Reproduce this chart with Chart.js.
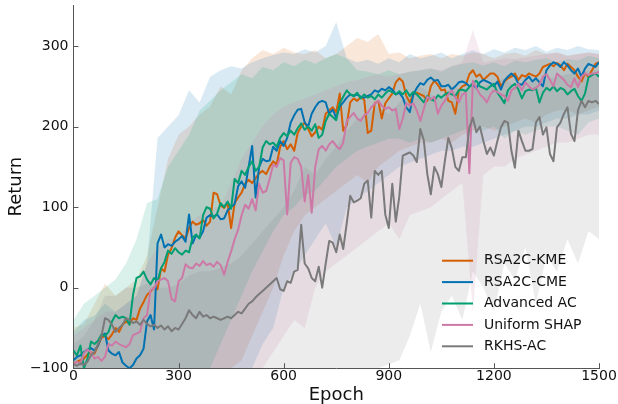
<!DOCTYPE html>
<html>
<head>
<meta charset="utf-8">
<script src="https://cdn.jsdelivr.net/npm/chart.js@4.4.1/dist/chart.umd.min.js"></script>
<style>
  html, body { margin: 0; padding: 0; background: #fff; }
</style>
</head>
<body>
<canvas id="returnChart" width="618" height="404"></canvas>
<script>
// mean return, one value every 10 epochs (0..1500)
const kme = [
  -95,-92,-90,-88,-83,-80,-82,-72,-62,-60,
  -64,-58,-50,-55,-46,-42,-45,-38,-40,-26,
  -18,-9,-5,0,-2,24,20,41,49,62,
  70,65,61,74,82,78,80,84,77,82,
  118,116,102,99,105,74,105,112,118,129,
  134,130,136,142,145,141,150,157,153,175,
  182,172,178,170,192,200,205,197,188,193,
  200,196,216,220,224,218,241,195,202,230,
  235,232,237,233,192,195,229,232,210,229,
  235,241,255,260,256,238,230,240,242,240,
  238,232,250,257,252,245,246,232,230,216,
  245,250,252,265,270,262,265,258,262,266,
  266,262,250,256,260,262,266,258,264,262,
  266,264,262,266,274,276,278,275,279,276,
  270,278,274,270,262,256,266,262,270,278,
  280
];
const cme = [
  -90,-86,-84,-80,-77,-75,-78,-72,-60,-57,
  -78,-82,-84,-80,-93,-97,-100,-96,-88,-84,
  -76,-42,-34,-52,55,66,50,54,52,57,
  60,64,57,91,55,65,62,70,87,90,
  88,91,85,86,96,100,104,126,132,124,
  150,176,112,150,160,157,158,175,170,182,
  176,186,205,214,221,222,205,200,216,224,
  230,232,230,216,221,211,225,230,236,240,
  238,240,237,236,238,240,245,243,247,245,
  249,246,240,242,236,224,218,240,248,254,
  252,258,261,257,258,250,250,252,246,250,
  255,256,254,250,252,248,255,258,256,254,
  250,256,246,257,262,266,262,253,252,258,
  262,256,260,255,250,270,276,280,278,274,
  280,276,270,266,272,262,272,278,276,274,
  280
];
const advAC = [
  -78,-84,-72,-100,-88,-67,-70,-66,-58,-60,
  -55,-42,-34,-38,-36,-38,-46,-9,12,14,
  20,10,4,12,8,24,32,46,42,49,
  44,41,46,44,62,66,61,90,100,98,
  86,92,105,100,107,98,135,130,145,140,
  150,157,145,150,174,182,178,180,175,186,
  192,188,195,190,198,204,196,200,195,203,
  186,190,207,216,212,208,229,237,245,240,
  238,242,235,240,236,238,234,240,236,241,
  245,243,240,244,240,245,238,243,240,235,
  230,238,234,232,239,236,240,242,240,238,
  245,246,244,249,254,257,250,248,246,250,
  253,242,236,229,245,250,253,246,235,244,
  246,245,248,230,242,248,245,250,244,248,
  246,240,244,247,238,232,241,261,264,266,
  262
];
const shap = [
  -95,-92,-95,-81,-77,-80,-88,-86,-91,-86,
  -70,-72,-67,-70,-72,-74,-70,-59,-57,-55,
  -38,-34,-3,-1,8,10,12,8,-14,-17,
  8,12,29,25,24,30,27,33,28,30,
  26,32,28,16,32,45,60,72,90,103,
  98,110,96,129,118,120,135,153,150,161,
  158,91,155,162,160,150,107,140,93,150,
  172,176,170,178,182,176,172,180,207,212,
  217,210,207,214,217,224,228,232,226,222,
  224,220,222,197,210,229,226,229,220,207,
  222,237,234,237,216,226,232,240,245,236,
  230,240,242,142,257,248,240,236,230,240,
  245,243,240,238,232,245,248,253,245,255,
  250,246,248,252,262,265,258,250,266,262,
  258,252,249,260,249,262,266,264,266,266,
  268
];
const rkhs = [
  -95,-97,-94,-96,-92,-84,-80,-70,-60,-38,
  -40,-46,-55,-50,-46,-38,-40,-44,-42,-46,
  -40,-45,-48,-46,-50,-47,-52,-48,-54,-50,
  -52,-45,-38,-28,-34,-38,-30,-36,-34,-38,
  -36,-38,-40,-38,-36,-38,-34,-30,-32,-26,
  -20,-17,-12,-8,-4,0,4,8,12,-2,
  -4,8,6,20,22,78,30,24,12,8,
  26,0,30,58,56,44,66,48,80,114,
  106,108,111,129,133,87,145,140,145,91,
  74,129,82,113,164,166,168,164,156,197,
  183,141,116,150,141,125,157,186,173,150,
  145,162,162,199,211,193,200,182,166,174,
  164,182,199,207,205,170,149,195,182,170,
  170,172,205,212,190,199,166,157,199,205,
  216,224,191,182,220,232,224,232,230,232,
  228
];

// spread bands, one value every 30 epochs (0..1500)
const kmeHi = [-50,-45,-20,5,-10,0,10,40,100,160, 190,200,215,225,250,240,270,285,295,290, 298,292,290,295,285,290,300,310,305,315, 290,292,285,288,290,285,290,288,292,290, 285,290,292,288,295,290,292,288,290,292, 290];
const kmeLo = [-100,-100,-100,-100,-100,-100,-100,-100,-100,-100, -100,-100,-100,-100,-100,-100,-90,-60,-30,0, 40,70,90,100,110,120,130,140,130,150, 160,170,175,180,180,185,180,190,195,200, 195,200,205,210,205,215,220,220,215,220, 225];
const cmeHi = [-55,-40,-35,-20,-30,-20,-10,30,186,200, 214,245,230,262,270,275,272,280,285,289, 292,290,296,292,300,330,285,280,283,278, 285,280,290,285,288,292,285,290,295,290, 296,292,298,295,300,293,298,295,300,296, 295];
const cmeLo = [-100,-100,-100,-100,-100,-100,-100,-100,-100,-100, -100,-100,-100,-100,-100,-100,-100,-100,-70,-50, 0,20,40,60,80,50,100,110,120,130, 140,150,155,160,165,170,170,175,175,180, 185,190,195,200,200,205,210,210,215,215, 220];
const advHi = [-40,-20,-10,0,10,30,60,105,110,150, 170,190,220,232,245,255,265,260,274,270, 280,275,283,278,285,290,285,270,268,265, 270,265,268,270,272,268,275,278,280,276, 280,275,282,280,283,285,280,284,282,288, 285];
const advLo = [-100,-100,-100,-100,-100,-100,-100,-100,-100,-100, -100,-100,-100,-100,-70,-40,-10,20,45,70, 90,100,115,120,135,150,160,170,175,180, 185,185,180,185,180,185,190,195,200,195, 200,185,195,190,195,200,200,195,190,205, 210];
const shapHi = [-60,-50,-40,-30,-30,-20,-10,30,50,60, 60,80,90,100,100,130,160,180,200,215, 225,230,235,240,245,250,255,258,262,265, 262,265,268,270,272,270,275,280,320,280, 282,285,284,286,288,290,292,288,290,292, 290];
const shapLo = [-100,-100,-100,-100,-100,-100,-100,-100,-100,-100, -100,-100,-100,-100,-100,-100,-100,-100,-100,-80, -60,-40,-50,0,20,30,40,50,60,70, 80,60,90,95,100,110,120,130,-30,140, 150,150,160,165,170,175,180,180,185,190, 190];
const rkhsHi = [-70,-60,-40,-10,-10,0,0,5,0,0, 5,15,20,20,25,30,40,55,70,85, 100,120,150,140,160,175,195,210,215,225, 215,230,240,250,240,235,250,245,255,250, 255,260,250,255,260,258,262,265,268,270, 270];
const rkhsLo = [-100,-100,-100,-100,-100,-100,-100,-100,-100,-100, -100,-100,-100,-100,-100,-100,-100,-100,-100,-100, -100,-100,-100,-100,-100,-100,-100,-100,-110,-100, -95,-90,-60,-20,-80,-30,-10,-40,20,0, -30,30,10,50,-20,40,20,60,30,70, 60];

const names = ['RSA2C-KME', 'RSA2C-CME', 'Advanced AC', 'Uniform SHAP', 'RKHS-AC'];
const colors = ['#d55e00', '#0072b2', '#009e73', '#cc79a7', '#7a7a7a'];
const bandColors = ['rgba(213,94,0,0.15)', 'rgba(0,114,178,0.15)', 'rgba(0,158,115,0.15)',
                    'rgba(204,121,167,0.15)', 'rgba(127,127,127,0.15)'];
const xTicks = [0, 300, 600, 900, 1200, 1500];
const yTicks = [-100, 0, 100, 200, 300];

const means = [kme, cme, advAC, shap, rkhs];
const highs = [kmeHi, cmeHi, advHi, shapHi, rkhsHi];
const lows = [kmeLo, cmeLo, advLo, shapLo, rkhsLo];
const axisColor = '#555';
const textColor = '#111';

const toPoints = (arr, step) => arr.map((v, i) => ({ x: i * step, y: v }));

const datasets = [];
// bands first: hi fills down to the lo right after it
names.forEach((name, k) => {
  datasets.push({
    label: name + ' band', data: toPoints(highs[k], 30),
    borderColor: 'rgba(0,0,0,0)', borderWidth: 0, pointRadius: 0,
    backgroundColor: bandColors[k], fill: '+1', order: 14 - k
  });
  datasets.push({
    label: name + ' low', data: toPoints(lows[k], 30),
    borderColor: 'rgba(0,0,0,0)', borderWidth: 0, pointRadius: 0,
    fill: false, order: 14 - k
  });
});
names.forEach((name, k) => {
  datasets.push({
    label: name, data: toPoints(means[k], 10),
    borderColor: colors[k], borderWidth: 2, pointRadius: 0,
    borderJoinStyle: 'round', fill: false, order: 4 - k
  });
});

// ticks point into the plot, like the original
const inwardTicks = {
  id: 'inwardTicks',
  afterDatasetsDraw(chart) {
    const { ctx, chartArea: a, scales: { x, y } } = chart;
    ctx.save();
    ctx.strokeStyle = axisColor;
    ctx.lineWidth = 1;
    ctx.beginPath();
    x.ticks.forEach(t => {
      const p = Math.round(x.getPixelForValue(t.value)) + 0.5;
      ctx.moveTo(p, a.bottom); ctx.lineTo(p, a.bottom - 5);
    });
    y.ticks.forEach(t => {
      const p = Math.round(y.getPixelForValue(t.value)) + 0.5;
      ctx.moveTo(a.left, p); ctx.lineTo(a.left + 5, p);
    });
    ctx.stroke();
    ctx.restore();
  }
};

// legend sits inside the plot, lower right, no frame
const innerLegend = {
  id: 'innerLegend',
  afterDraw(chart) {
    const { ctx, chartArea: a } = chart;
    ctx.save();
    ctx.font = '14px "DejaVu Sans"';
    ctx.textBaseline = 'middle';
    names.forEach((name, i) => {
      const y = a.bottom - 107.5 + i * 21.4;
      ctx.strokeStyle = colors[i];
      ctx.lineWidth = 2;
      ctx.beginPath();
      ctx.moveTo(a.right - 157, y);
      ctx.lineTo(a.right - 126, y);
      ctx.stroke();
      ctx.fillStyle = textColor;
      ctx.fillText(name, a.right - 115, y);
    });
    ctx.restore();
  }
};

const fmt = v => (v < 0 ? '\u2212' + Math.abs(v) : String(v));

Chart.defaults.font.family = '"DejaVu Sans", sans-serif';

new Chart(document.getElementById('returnChart').getContext('2d'), {
  type: 'line',
  data: { datasets },
  options: {
    responsive: false,
    animation: false,
    layout: { padding: { top: 5, right: 19, left: 5, bottom: 0 } },
    plugins: {
      legend: { display: false },
      tooltip: { enabled: false },
      filler: { propagate: false }
    },
    scales: {
      x: {
        type: 'linear', min: 0, max: 1500,
        afterBuildTicks: s => { s.ticks = xTicks.map(v => ({ value: v })); },
        grid: { display: false, drawTicks: false },
        border: { display: true, color: axisColor, width: 1 },
        ticks: { padding: 0, color: textColor, font: { size: 14 }, maxRotation: 0, callback: fmt },
        title: { display: true, text: 'Epoch', color: textColor, font: { size: 18, lineHeight: 1.0 }, padding: { top: 1, bottom: 0 } }
      },
      y: {
        type: 'linear', min: -100, max: 351,
        afterBuildTicks: s => { s.ticks = yTicks.map(v => ({ value: v })); },
        afterFit: s => { s.paddingTop = 0; s.paddingBottom = 0; },
        grid: { display: false, drawTicks: false },
        border: { display: true, color: axisColor, width: 1 },
        ticks: { padding: 5, color: textColor, font: { size: 14 }, callback: fmt },
        title: { display: true, text: 'Return', color: textColor, font: { size: 18, lineHeight: 1.0 }, padding: { top: 2, bottom: 0 } }
      }
    }
  },
  plugins: [inwardTicks, innerLegend]
});
</script>
</body>
</html>
